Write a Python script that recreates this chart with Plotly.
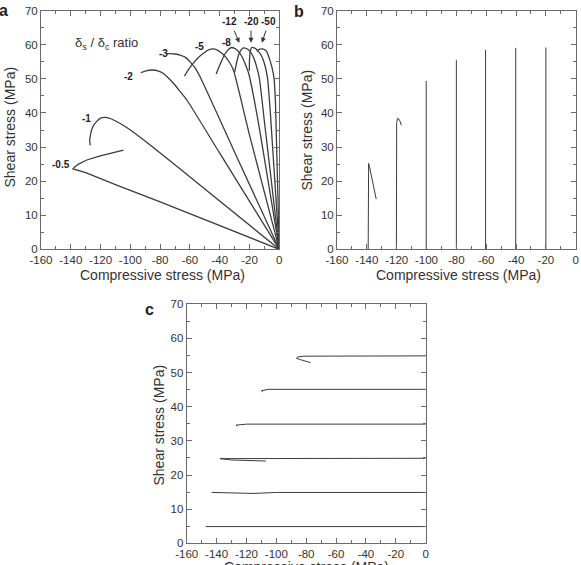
import plotly.graph_objects as go

W, H = 581, 565

# ---------------- Panel a data (compressive stress, shear stress) ----------------
ratio_labels = ["-0.5", "-1", "-2", "-3", "-5", "-8", "-12", "-20", "-50"]

a_x_05 = [0, -40, -80, -110, -130, -138.5, -137, -134.8, -129.2, -120.2, -112, -104.6]
a_y_05 = [0, 7.0, 13.9, 19.0, 22.5, 23.6, 24.3, 25.0, 26.2, 27.4, 28.3, 29.1]

a_x_1 = [0, -50, -86.7, -100, -108, -113, -116.5, -120, -122.4, -124.5, -125.8, -126.8, -127.3, -127]
a_y_1 = [0, 17.7, 30.6, 35.0, 37.2, 38.3, 38.7, 38.5, 37.6, 36.5, 35.3, 33.5, 32.0, 30.5]

a_x_2 = [0, -40, -62.1, -67, -71.1, -75, -77.8, -81, -85.6, -89, -93]
a_y_2 = [0, 28.2, 43.8, 46.5, 48.7, 50.5, 51.6, 52.3, 52.6, 52.4, 51.8]

a_x_3 = [0, -30, -53.2, -56.5, -59.9, -63, -66.6, -70, -73, -76]
a_y_3 = [0, 28.5, 50.6, 53.2, 55.0, 56.3, 57.0, 57.3, 57.4, 57.4]

a_x_5 = [0, -20, -30.8, -33, -35.3, -38, -41, -44.2, -47.5, -50.9, -54.5, -57.7, -61, -63.7]
a_y_5 = [0, 33.5, 52.6, 54.5, 56.0, 57.3, 58.3, 58.8, 58.5, 57.5, 56.2, 54.6, 52.7, 50.8]

a_x_8 = [0, -15, -20.5, -23, -25, -26.8, -29, -32, -34, -36.5, -38.5, -40.5, -42.4]
a_y_8 = [0, 39.5, 51.5, 54.5, 56.5, 57.7, 58.7, 59.2, 58.7, 57.3, 55.5, 53.5, 51.4]

a_x_12 = [0, -10, -13.5, -15.5, -17.5, -19.5, -22, -24.1, -26, -27.5, -28.8, -30]
a_y_12 = [0, 37.5, 50.5, 54.0, 56.5, 58.0, 58.9, 59.1, 58.3, 56.8, 54.5, 52.0]

a_x_20 = [0, -6, -8, -10, -12, -14.5, -16.5, -18.5, -19.5, -20, -20.1]
a_y_20 = [0, 40, 50.5, 54.5, 56.8, 58.3, 59.0, 59.2, 58.0, 55.5, 52.4]

a_x_50 = [0, -2.5, -3.5, -5, -6.7, -8.4, -10, -11.5, -13, -14.5, -15]
a_y_50 = [0, 42, 50.0, 53.5, 56.0, 58.0, 58.6, 58.8, 58.7, 58.4, 58.0]

a_curves = [(a_x_05, a_y_05), (a_x_1, a_y_1), (a_x_2, a_y_2), (a_x_3, a_y_3),
            (a_x_5, a_y_5), (a_x_8, a_y_8), (a_x_12, a_y_12), (a_x_20, a_y_20),
            (a_x_50, a_y_50)]

# label positions for the plain labels (data coords)
a_label_x = [-146.4, -129.6, -101.2, -77.8, -53.8, -35.7]
a_label_y = [25.0, 38.4, 50.8, 57.3, 59.6, 60.6]
# arrowed labels: -12, -20, -50
arrow_label_x = [-33.7, -18.5, -7.3]
arrow_label_y = [66.8, 66.8, 66.8]
arrow_tail_x = [-30.8, -19.0, -8.6]
arrow_tail_y = [64.6, 64.6, 64.6]
arrow_head_x = [-26.8, -19.0, -11.7]
arrow_head_y = [60.6, 60.6, 60.6]

# ---------------- Panel b data ----------------
b_x_140 = [-139.1, -139.1, -138.8, -138.2, -137.3, -136.4, -135.0, -133.7]
b_y_140 = [0, 22.0, 25.2, 24.2, 22.2, 20.3, 17.4, 14.7]
b_x_120 = [-120.2, -120.2, -120.0, -119.4, -118.5, -117.7, -116.9]
b_y_120 = [0, 35.0, 37.2, 38.4, 38.2, 37.5, 36.4]
b_vert_x = [-100.2, -80.0, -60.4, -40.2, -20.0]
b_vert_top = [49.4, 55.5, 58.5, 59.1, 59.2]

# ---------------- Panel c data ----------------
c_x_5 = [0, -147.3]
c_y_5 = [4.9, 4.9]
c_x_15 = [0, -100, -115, -130, -143.3]
c_y_15 = [14.9, 14.9, 14.6, 14.7, 14.9]
c_x_25 = [0, -130, -137.7, -130, -120, -107]
c_y_25 = [24.9, 24.9, 24.8, 24.4, 24.2, 24.1]
c_x_35 = [0, -120, -127, -126]
c_y_35 = [34.9, 34.9, 34.6, 34.3]
c_x_45 = [0, -105, -110, -109]
c_y_45 = [45.1, 45.1, 44.7, 44.3]
c_x_55 = [0, -75, -82, -85.5, -86.5, -84, -80, -77]
c_y_55 = [54.9, 54.9, 54.8, 54.6, 54.2, 53.8, 53.3, 52.9]

x_ticks = [-160, -140, -120, -100, -80, -60, -40, -20, 0]
x_tick_text = ["-160", "-140", "-120", "-100", "-80", "-60", "-40", "-20", "0"]
y_ticks = [0, 10, 20, 30, 40, 50, 60, 70]

FONT = "Liberation Sans, Arial, sans-serif"
LINE = "#3c3c3c"
FRAME = "#6a6a6a"
TICK_SIZE = 11.5

fig = go.Figure()

for i, (xs, ys) in enumerate(a_curves):
    shape = dict(shape="linear") if i == 0 else dict(shape="spline", smoothing=0.6)
    fig.add_trace(go.Scatter(x=xs, y=ys, mode="lines", xaxis="x", yaxis="y",
                             line=dict(color=LINE, width=1.3, **shape),
                             showlegend=False, hoverinfo="skip"))

for xs, ys in [(b_x_140, b_y_140), (b_x_120, b_y_120)]:
    fig.add_trace(go.Scatter(x=xs, y=ys, mode="lines", xaxis="x2", yaxis="y2",
                             line=dict(color=LINE, width=1.0),
                             showlegend=False, hoverinfo="skip"))
for xv, top in zip(b_vert_x, b_vert_top):
    fig.add_trace(go.Scatter(x=[xv, xv], y=[0, top], mode="lines", xaxis="x2", yaxis="y2",
                             line=dict(color=LINE, width=1.0),
                             showlegend=False, hoverinfo="skip"))

for xs, ys in [(c_x_5, c_y_5), (c_x_15, c_y_15), (c_x_25, c_y_25),
               (c_x_35, c_y_35), (c_x_45, c_y_45), (c_x_55, c_y_55)]:
    fig.add_trace(go.Scatter(x=xs, y=ys, mode="lines", xaxis="x3", yaxis="y3",
                             line=dict(color=LINE, width=1.0),
                             showlegend=False, hoverinfo="skip"))


def px_x(p):
    return p / W


def px_y(p):
    return 1 - p / H


def xaxis(domain, anchor):
    return dict(domain=domain, anchor=anchor, range=[-160, 0],
                tickmode="array", tickvals=x_ticks, ticktext=x_tick_text,
                tickangle=0, automargin=False,
                ticks="inside", ticklen=5, tickwidth=1, tickcolor=FRAME,
                showline=True, linecolor=FRAME, linewidth=1, mirror="ticks",
                showgrid=False, zeroline=False,
                minor=dict(dtick=10, ticks="inside", ticklen=3, tickcolor=FRAME, showgrid=False),
                tickfont=dict(family=FONT, size=TICK_SIZE, color="#333"))


def yaxis(domain, anchor):
    return dict(domain=domain, anchor=anchor, range=[0, 70], tickvals=y_ticks,
                tickangle=0, automargin=False,
                ticks="inside", ticklen=5, tickwidth=1, tickcolor=FRAME,
                showline=True, linecolor=FRAME, linewidth=1, mirror="ticks",
                showgrid=False, zeroline=False,
                minor=dict(dtick=5, ticks="inside", ticklen=3, tickcolor=FRAME, showgrid=False),
                tickfont=dict(family=FONT, size=TICK_SIZE, color="#333"))


ya_dom = [px_y(249.3), px_y(10.7)]
yc_dom = [px_y(543.3), px_y(304.3)]
fig.update_layout(
    width=W, height=H, margin=dict(l=0, r=0, t=0, b=0, pad=0, autoexpand=False),
    paper_bgcolor="white", plot_bgcolor="white",
    xaxis=xaxis([px_x(41), px_x(279.3)], "y"),
    yaxis=yaxis(ya_dom, "x"),
    xaxis2=xaxis([px_x(337), px_x(575.7)], "y2"),
    yaxis2=yaxis(ya_dom, "x2"),
    xaxis3=xaxis([px_x(186.7), px_x(425.7)], "y3"),
    yaxis3=yaxis(yc_dom, "x3"),
)

ann = []
title_font = dict(family=FONT, size=14, color="#333")
# axis titles
for (cx, cy) in [(9.5, 127), (306.5, 130), (158.5, 425)]:
    ann.append(dict(text="Shear stress (MPa)", x=px_x(cx), y=px_y(cy), xref="paper", yref="paper",
                    textangle=-90, showarrow=False, font=title_font, xanchor="center", yanchor="middle"))
for (cx, cy) in [(162, 275), (458, 275)]:
    ann.append(dict(text="Compressive stress (MPa)", x=px_x(cx), y=px_y(cy), xref="paper", yref="paper",
                    showarrow=False, font=title_font, xanchor="center", yanchor="middle"))
# panel c x title: sits at the very bottom edge, partly cut like the original
ann.append(dict(text="Compressive stress (MPa)", x=px_x(306), y=px_y(566.5), xref="paper", yref="paper",
                showarrow=False, font=title_font, xanchor="center", yanchor="middle"))
# panel letters
for t, (cx, cy) in zip(["a", "b", "c"], [(3, 10), (299, 12), (149, 309)]):
    ann.append(dict(text="<b>%s</b>" % t, x=px_x(cx), y=px_y(cy), xref="paper", yref="paper",
                    showarrow=False, font=dict(family=FONT, size=16, color="#222"),
                    xanchor="center", yanchor="middle"))
# ratio heading
ann.append(dict(text="δ<sub>s</sub> / δ<sub>c</sub> ratio", x=-116, y=60.4, xref="x", yref="y",
                showarrow=False, font=dict(family=FONT, size=13, color="#333")))
# curve labels
lab_font = dict(family=FONT, size=10, color="#222")
for t, lx, ly in zip(ratio_labels[:6], a_label_x, a_label_y):
    ann.append(dict(text="<b>%s</b>" % t, x=lx, y=ly, xref="x", yref="y",
                    showarrow=False, font=lab_font))
for t, lx, ly, tx, ty, hx, hy in zip(ratio_labels[6:], arrow_label_x, arrow_label_y,
                                     arrow_tail_x, arrow_tail_y, arrow_head_x, arrow_head_y):
    ann.append(dict(text="<b>%s</b>" % t, x=lx, y=ly, xref="x", yref="y",
                    showarrow=False, font=lab_font))
    ann.append(dict(text="", x=hx, y=hy, ax=tx, ay=ty, xref="x", yref="y", axref="x", ayref="y",
                    showarrow=True, arrowhead=2, arrowsize=1, arrowwidth=1, arrowcolor="#333"))

fig.update_layout(annotations=ann)
fig.write_html("out.html")
